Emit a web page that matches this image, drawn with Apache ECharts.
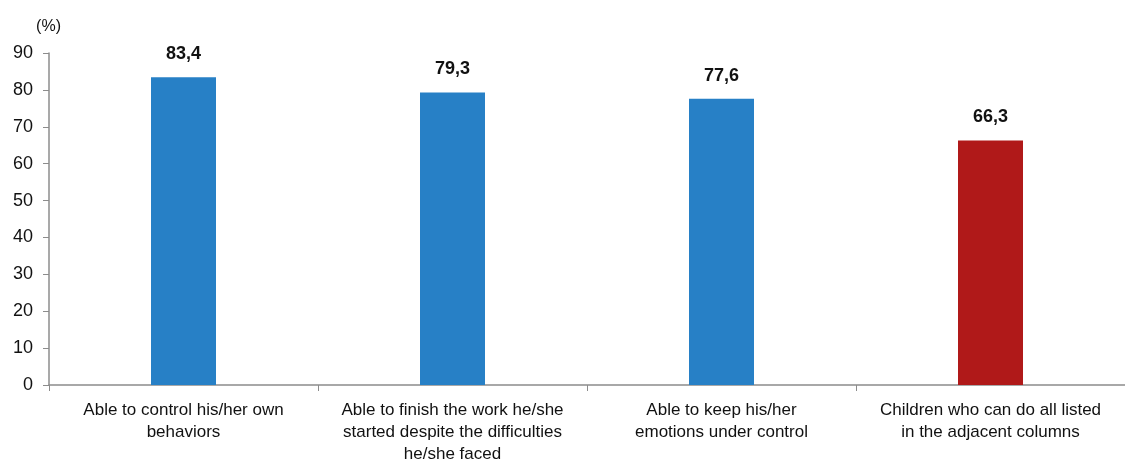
<!DOCTYPE html>
<html><head><meta charset="utf-8">
<script src="https://cdn.jsdelivr.net/npm/echarts@6/dist/echarts.min.js"></script>
<style>html,body{margin:0;padding:0;background:#fff}#c{width:1125px;height:475px}</style>
</head><body><div id="c"></div>
<script>
const categories = [
  "Able to control his/her own\nbehaviors",
  "Able to finish the work he/she\nstarted despite the difficulties\nhe/she faced",
  "Able to keep his/her\nemotions under control",
  "Children who can do all listed\nin the adjacent columns"
];
const values = [83.4, 79.3, 77.6, 66.3];
const barColors = ["#2780C6", "#2780C6", "#2780C6", "#B01919"];
const yTicks = [0, 10, 20, 30, 40, 50, 60, 70, 80, 90];

const FONT = "'Liberation Sans Narrow', 'Arial Narrow', 'Liberation Sans', Arial, sans-serif";
const chart = echarts.init(document.getElementById('c'));
chart.setOption({
  animation: false,
  grid: { left: 49, right: -2, top: 53, bottom: 90, containLabel: false },
  xAxis: {
    type: 'category',
    data: categories,
    axisLine: { lineStyle: { color: '#8c8c8c', width: 1.5 } },
    axisTick: { show: true, length: 6, alignWithLabel: false, lineStyle: { color: '#8c8c8c' } },
    axisLabel: { color: '#111', fontFamily: FONT, fontSize: 17, lineHeight: 22, margin: 14, interval: 0 }
  },
  yAxis: {
    type: 'value', min: 0, max: 90, interval: 10,
    name: '(%)', nameLocation: 'end', nameGap: 18,
    nameTextStyle: { color: '#111', fontFamily: FONT, fontSize: 16, align: 'right', padding: [0, -12, 0, 0] },
    axisLine: { show: true, lineStyle: { color: '#8c8c8c', width: 1.5 } },
    axisTick: { show: true, length: 6, lineStyle: { color: '#8c8c8c' } },
    axisLabel: { color: '#111', fontFamily: FONT, fontSize: 18, margin: 16,
      formatter: v => yTicks.includes(v) ? String(v) : '' },
    splitLine: { show: false }
  },
  series: [{
    type: 'bar',
    barWidth: 65,
    data: values.map((v, i) => ({ value: v, itemStyle: { color: barColors[i] } })),
    label: {
      show: true, position: 'top', distance: 14,
      color: '#111', fontFamily: FONT, fontSize: 18, fontWeight: 'bold',
      formatter: p => p.value.toFixed(1).replace('.', ',')
    }
  }]
});
</script></body></html>
